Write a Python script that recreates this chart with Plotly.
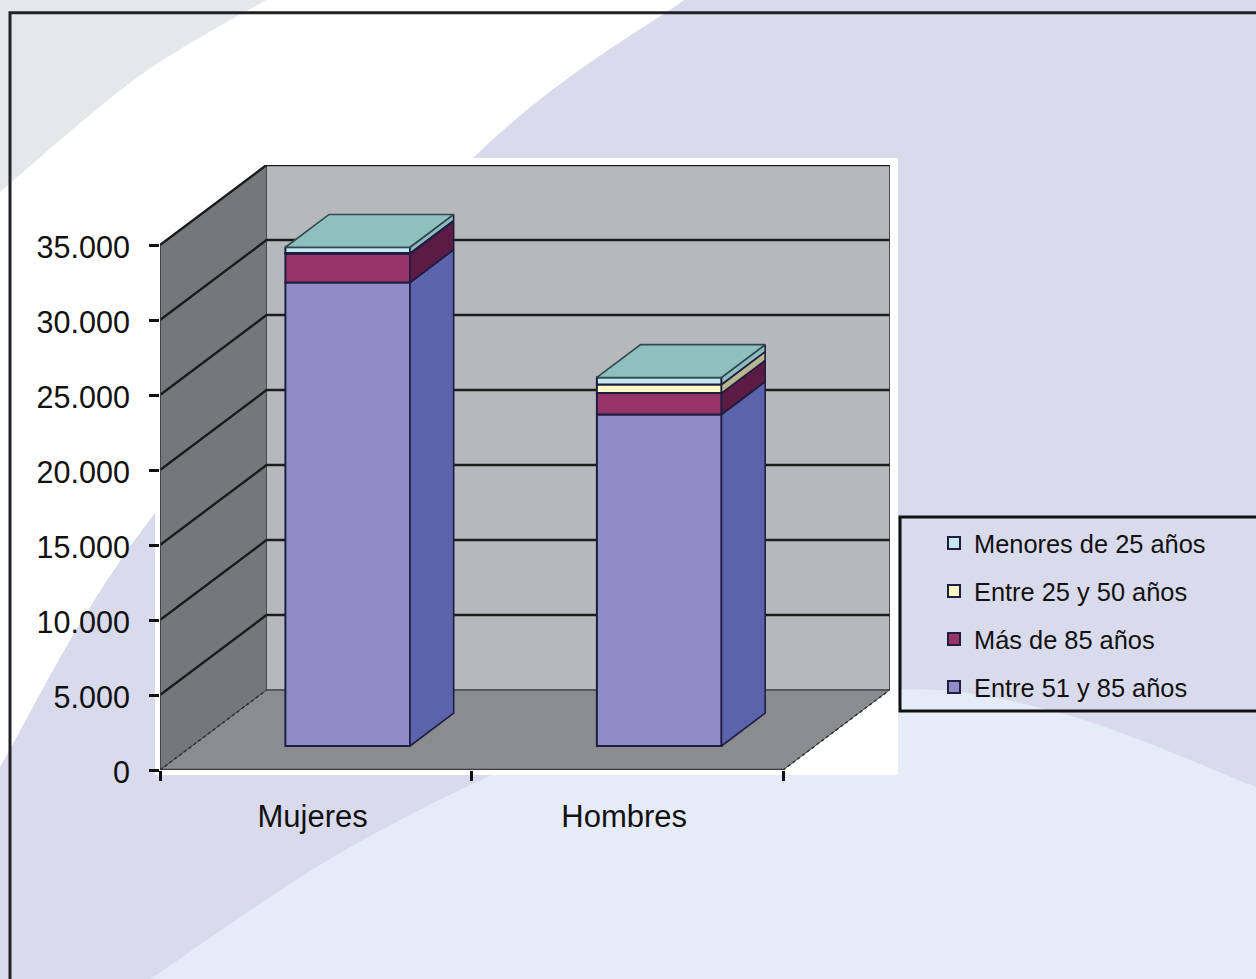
import plotly.graph_objects as go

W, H = 1256, 979

# ---- data ----
categories = ["Mujeres", "Hombres"]
series_names = ["Entre 51 y 85 años", "Más de 85 años", "Entre 25 y 50 años", "Menores de 25 años"]
entre_51_85 = [30900, 22100]
mas_de_85 = [1900, 1430]
entre_25_50 = [60, 570]
menores_25 = [390, 470]
y_ticks = [0, 5000, 10000, 15000, 20000, 25000, 30000, 35000]
y_tick_labels = ["0", "5.000", "10.000", "15.000", "20.000", "25.000", "30.000", "35.000"]

series_values = [entre_51_85, mas_de_85, entre_25_50, menores_25]
front_colors = ["#8f8cc7", "#973568", "#fbfbc4", "#c5e9ee"]
side_colors = ["#5c63ad", "#5c1b45", "#b7b68f", "#8ebcbf"]
top_color = "#8fbfbf"
edge = "#1e1e40"

# ---- layout scale ----
PX_L, PX_R, PX_T, PX_B = 160, 890, 165, 770
PX_PER_CAT = 311.5
PX_PER_VAL = 75 / 5000
DX = 106.5 / PX_PER_CAT      # depth offset in category units
DY = 80 / PX_PER_VAL         # depth offset in value units
X_MAX = (PX_R - PX_L) / PX_PER_CAT
Y_MAX = (PX_B - PX_T) / PX_PER_VAL
BAR_W = 0.40
D0, D1 = 0.30, 0.71          # bar front / back depth
N = len(categories)
TOP = y_ticks[-1]


def P(x, v, d=0.0):
    return x + d * DX, v + d * DY


def path(points, close=True):
    s = "M" + " L".join(f"{x:.5f},{y:.3f}" for x, y in points)
    return s + (" Z" if close else "")


def px(x, y):
    return x / W, 1 - y / H


def spline(points):
    pts = [points[0]] + points + [points[-1]]
    s = ""
    for i in range(1, len(pts) - 2):
        p0, p1, p2, p3 = pts[i - 1], pts[i], pts[i + 1], pts[i + 2]
        c1 = (p1[0] + (p2[0] - p0[0]) / 6, p1[1] + (p2[1] - p0[1]) / 6)
        c2 = (p2[0] - (p3[0] - p1[0]) / 6, p2[1] - (p3[1] - p1[1]) / 6)
        a, b, c = px(*c1), px(*c2), px(*p2)
        s += f" C{a[0]:.5f},{a[1]:.5f} {b[0]:.5f},{b[1]:.5f} {c[0]:.5f},{c[1]:.5f}"
    return s


def bg_shape(boundary, tail, color):
    a = px(*boundary[0])
    d = f"M{a[0]:.5f},{a[1]:.5f}" + spline(boundary)
    for p in tail:
        q = px(*p)
        d += f" L{q[0]:.5f},{q[1]:.5f}"
    d += " Z"
    return dict(type="path", xref="paper", yref="paper", path=d, fillcolor=color,
                line=dict(width=0), layer="below")


shapes = [
    bg_shape([(266, 0), (138, 77), (0, 192)], [(0, 0)], "#e6e7ea"),
    bg_shape([(684, 0), (473, 158), (155, 513), (0, 767)],
             [(0, H), (W, H), (W, 0)], "#d9dbec"),
    bg_shape([(150, 979), (363, 840), (600, 735), (880, 690),
              (1060, 713), (1256, 787)], [(W, H)], "#e6ecf7"),
]
a, b = px(155, 158), px(898, 775)
shapes.append(dict(type="rect", xref="paper", yref="paper", x0=a[0], y0=a[1], x1=b[0], y1=b[1],
                   fillcolor="white", line=dict(width=0), layer="below"))
# outer frame
f = [px(10, H), px(10, 13), px(W + 5, 13)]
shapes.append(dict(type="path", xref="paper", yref="paper", path=path(f, close=False),
                   line=dict(color="#222226", width=3), layer="below"))


def wall(pts, fill, color="#4a4b4e", width=1):
    return dict(type="path", xref="x", yref="y", path=path(pts), fillcolor=fill,
                line=dict(color=color, width=width), layer="below")


def seg(pts, color="#1c1c1c", width=2.4, dash="solid"):
    return dict(type="path", xref="x", yref="y", path=path(pts, close=False),
                line=dict(color=color, width=width, dash=dash), layer="below")


# back wall, side wall, floor
shapes.append(wall([P(0, 0, 1), P(N, 0, 1), P(N, TOP, 1), P(0, TOP, 1)], "#b7b8bb"))
shapes.append(wall([P(0, 0, 0), P(0, 0, 1), P(0, TOP, 1), P(0, TOP, 0)], "#75787b"))
shapes.append(wall([P(0, 0, 0), P(N, 0, 0), P(N, 0, 1), P(0, 0, 1)], "#8b8c90"))
for t in y_ticks[1:]:
    shapes.append(seg([P(0, t, 0), P(0, t, 1), P(N, t, 1)]))
shapes.append(seg([P(0, 0, 1), P(N, 0, 1)], color="#56575a", width=2))
shapes.append(seg([P(0, 0, 0), P(N, 0, 0)], color="#3c3c3e", width=2.4))
shapes.append(seg([P(0, 0, 0), P(0, 0, 1)], color="#303032", width=1.5, dash="dot"))
shapes.append(seg([P(N, 0, 0), P(N, 0, 1)], color="#303032", width=1.5, dash="dot"))
shapes.append(seg([P(0, 0, 0), P(0, TOP, 0)], color="#3c3c3e", width=1.5))
# legend frame
a, b = px(900, 517), px(W + 5, 711)
shapes.append(dict(type="rect", xref="paper", yref="paper", x0=a[0], y0=a[1], x1=b[0], y1=b[1],
                   line=dict(color="#111111", width=3), layer="below"))

fig = go.Figure()
centers = [i + 0.5 for i in range(N)]
cum = [0.0] * N
bottoms = []
for rank, (name, vals, fc) in enumerate(zip(series_names, series_values, front_colors)):
    bottoms.append(list(cum))
    fig.add_trace(go.Bar(
        x=[P(c, 0, D0)[0] for c in centers], y=vals,
        base=[b_ + D0 * DY for b_ in cum], width=BAR_W, name=name, legendgroup=name,
        legendrank=10 - rank,
        marker=dict(color=fc, line=dict(color=edge, width=2)), hoverinfo="skip"))
    cum = [c_ + v for c_, v in zip(cum, vals)]

# side faces of each stacked block
for name, vals, bot, sc in zip(series_names, series_values, bottoms, side_colors):
    xs, ys = [], []
    for c, v, b_ in zip(centers, vals, bot):
        r = c + BAR_W / 2
        for p in [P(r, b_, D0), P(r, b_, D1), P(r, b_ + v, D1), P(r, b_ + v, D0), P(r, b_, D0)]:
            xs.append(p[0]); ys.append(p[1])
        xs.append(None); ys.append(None)
    fig.add_trace(go.Scatter(x=xs, y=ys, mode="lines", fill="toself", fillcolor=sc,
                             line=dict(color=edge, width=1.6), showlegend=False, hoverinfo="skip"))
# top faces
xs, ys = [], []
for c, t in zip(centers, cum):
    l, r = c - BAR_W / 2, c + BAR_W / 2
    for p in [P(l, t, D0), P(r, t, D0), P(r, t, D1), P(l, t, D1), P(l, t, D0)]:
        xs.append(p[0]); ys.append(p[1])
    xs.append(None); ys.append(None)
fig.add_trace(go.Scatter(x=xs, y=ys, mode="lines", fill="toself", fillcolor=top_color,
                         line=dict(color="#2f4a4c", width=1.6), showlegend=False, hoverinfo="skip"))

family = "Liberation Sans, Arial, sans-serif"
fig.update_layout(
    width=W, height=H, margin=dict(l=0, r=0, t=0, b=0, pad=0),
    paper_bgcolor="white", plot_bgcolor="rgba(0,0,0,0)",
    barmode="overlay", shapes=shapes, hovermode=False,
    legend=dict(x=934 / W, y=1 - 520 / H, xanchor="left", yanchor="top",
                bgcolor="rgba(0,0,0,0)", traceorder="grouped", tracegroupgap=12,
                font=dict(size=25.4, family=family, color="#111111")),
    xaxis=dict(domain=[PX_L / W, PX_R / W], range=[0, X_MAX], showgrid=False, zeroline=False,
               automargin=False,
               showline=False, tickmode="array", tickvals=[c - 0.01 for c in centers],
               ticktext=categories, ticks="", ticklabelstandoff=25,
               tickfont=dict(size=31, family=family, color="#111111"),
               minor=dict(tickmode="array", tickvals=list(range(N + 1)), ticks="outside",
                          ticklen=10, tickwidth=3, tickcolor="#111111", showgrid=False)),
    yaxis=dict(domain=[1 - PX_B / H, 1 - PX_T / H], range=[0, Y_MAX], showgrid=False, zeroline=False,
               automargin=False,
               showline=False, tickmode="array", tickvals=y_ticks, ticktext=y_tick_labels,
               ticks="outside", ticklen=10, tickwidth=3, tickcolor="#111111", ticklabelstandoff=13,
               ticklabelshift=2,
               tickfont=dict(size=30.5, family=family, color="#111111")),
)

fig.write_html("out.html", config=dict(displayModeBar=False),
               post_script="document.body.style.margin='0';document.documentElement.style.overflow='hidden';")
